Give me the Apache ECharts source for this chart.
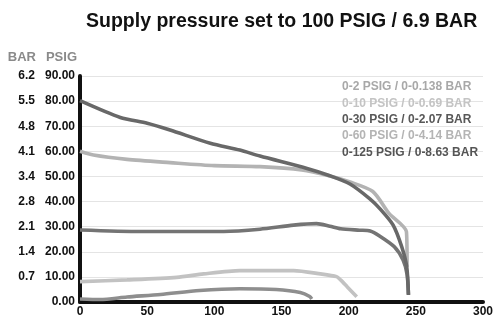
<!DOCTYPE html>
<html><head><meta charset="utf-8">
<script src="https://cdn.jsdelivr.net/npm/echarts@6/dist/echarts.min.js"></script>
<style>html,body{margin:0;padding:0;background:#fff}#c{width:504px;height:321px}</style>
</head><body><div id="c"></div>
<script>
var titleText = 'Supply pressure set to 100 PSIG / 6.9 BAR';
var seriesNames = ['0-2 PSIG / 0-0.138 BAR','0-10 PSIG / 0-0.69 BAR','0-30 PSIG / 0-2.07 BAR','0-60 PSIG / 0-4.14 BAR','0-125 PSIG / 0-8.63 BAR'];
var xTicks = [0,50,100,150,200,250,300];
var barLabels = ['', '0.7','1.4','2.1','2.8','3.4','4.1','4.8','5.5','6.2'];
// flow (x) and pressure PSIG (y) per series
var s02x = [0,15,35,60,89,119,146,164,171,172.5];
var s02y = [1.2,1.0,2.0,3.0,4.6,5.3,5.0,3.8,2.2,1.2];
var s10x = [0,35,72,92,119,159,179,191,194,199,206];
var s10y = [8.1,8.8,9.8,11.2,12.5,12.5,11.2,10.1,8.8,6.0,2.1];
var s30x = [0,45,107,134,159,176,186,194,208,216,223,234,240.5,243.5,244.5];
var s30y = [28.7,28.1,28.1,29.0,30.6,31.2,30.2,29.2,28.6,28.3,26.3,22.0,16.7,11.0,3.0];
var s60x = [0,10,35,67,100,134,165,186,201,218,230,243,243.5];
var s60y = [60.0,58.5,56.8,55.5,54.3,53.9,52.6,50.2,47.8,44.0,35.3,28.0,14.0];
var s125x = [0,30,50,67,97,119,134,169,186,201,216,223,233,239.5,243.2,244.5];
var s125y = [80.2,73.5,71.2,68.5,63.2,60.5,58.1,53.2,50.3,47.0,41.0,37.3,30.7,22.0,14.1,2.8];

var lineColors = ['#8e8e8e','#c2c2c2','#747474','#b3b3b3','#686868'];
var legendColors = ['#a8a8a8','#c4c4c4','#585858','#b4b4b4','#555555'];

function pairs(xs, ys){ return xs.map(function(x,i){ return [x, ys[i]]; }); }
var allX = [s02x,s10x,s30x,s60x,s125x];
var allY = [s02y,s10y,s30y,s60y,s125y];
var FONT = '"Liberation Sans", Arial, sans-serif';

var chart = echarts.init(document.getElementById('c'), null, {renderer:'canvas'});
chart.setOption({
  animation: false,
  title: {text: titleText, left: 81, top: 7,
    textStyle: {fontFamily: FONT, fontSize: 19.5, fontWeight: 'bold', color: '#111'}},
  legend: {orient: 'vertical', left: 332, top: 75, icon: 'none', itemWidth: 0, itemHeight: 14, itemGap: 2.3,
    selectedMode: false,
    textStyle: {fontFamily: FONT, fontSize: 12, fontWeight: 'bold', lineHeight: 14},
    data: seriesNames.map(function(n,i){ return {name: n, textStyle: {color: legendColors[i], fontWeight: 'bold'}}; })},
  grid: {left: 80, right: 21, top: 76, bottom: 19},
  xAxis: {type: 'value', min: 0, max: 300, interval: 50,
    axisLine: {lineStyle: {color: '#111', width: 4}}, axisTick: {show: false}, splitLine: {show: false},
    axisLabel: {fontFamily: FONT, fontSize: 12, fontWeight: 'bold', color: '#111', margin: 4,
      formatter: function(v){ return xTicks.indexOf(v) >= 0 ? String(v) : ''; }}},
  yAxis: [
    {type: 'value', min: 0, max: 90, interval: 10, position: 'left',
      name: 'PSIG', nameLocation: 'end', nameGap: 12,
      nameTextStyle: {fontFamily: FONT, fontSize: 13, fontWeight: 'bold', color: '#8a8a8a', align: 'right', padding: [0,3,0,0]},
      axisLine: {show: true, lineStyle: {color: '#111', width: 4}}, axisTick: {show: false},
      splitLine: {lineStyle: {color: '#e4e4e4', width: 1}},
      axisLabel: {fontFamily: FONT, fontSize: 12, fontWeight: 'bold', color: '#111', margin: 5,
        formatter: function(v){ return v.toFixed(2); }}},
    {type: 'value', min: 0, max: 90, interval: 10, position: 'left', offset: 44,
      name: 'BAR', nameLocation: 'end', nameGap: 12,
      nameTextStyle: {fontFamily: FONT, fontSize: 13, fontWeight: 'bold', color: '#8a8a8a', align: 'right'},
      axisLine: {show: false}, axisTick: {show: false}, splitLine: {show: false},
      axisLabel: {fontFamily: FONT, fontSize: 12, fontWeight: 'bold', color: '#111', margin: 1,
        formatter: function(v){ return barLabels[Math.round(v/10)] || ''; }}}
  ],
  series: seriesNames.map(function(n,i){
    return {name: n, type: 'line', yAxisIndex: 0, smooth: 0.25, symbol: 'none',
      lineStyle: {color: lineColors[i], width: 3.6}, itemStyle: {color: lineColors[i]},
      data: pairs(allX[i], allY[i])};
  })
});
</script></body></html>
